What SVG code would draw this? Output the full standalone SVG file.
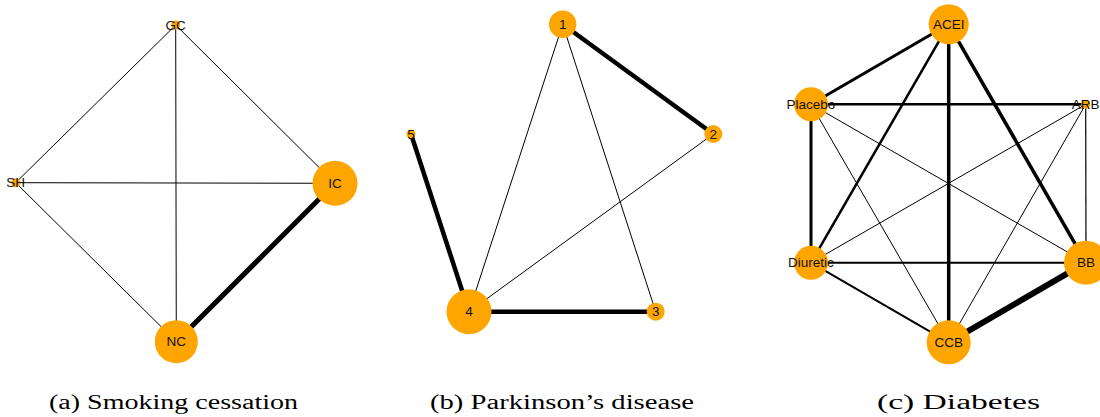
<svg xmlns="http://www.w3.org/2000/svg" width="1100" height="417" viewBox="0 0 1100 417">
<style>
.e{stroke:#000;fill:none;stroke-linecap:butt}
.n circle{fill:#FFA500}
.n text{font-family:"Liberation Sans",Arial,sans-serif;font-size:13.5px;fill:#111;text-anchor:middle;dominant-baseline:central}
.cap{font-family:"Liberation Serif","DejaVu Serif",serif;font-size:20px;fill:#000}
</style>
<rect width="1100" height="417" fill="#fff"/>
<g id="connectors">
<line class="e" x1="175.7" y1="25" x2="15.7" y2="182.7" stroke-width="1"/>
<line class="e" x1="175.7" y1="25" x2="335" y2="183.3" stroke-width="1"/>
<line class="e" x1="175.7" y1="25" x2="176.3" y2="341.7" stroke-width="1"/>
<line class="e" x1="15.7" y1="182.7" x2="335" y2="183.3" stroke-width="1"/>
<line class="e" x1="15.7" y1="182.7" x2="176.3" y2="341.7" stroke-width="1"/>
<line class="e" x1="335" y1="183.3" x2="176.3" y2="341.7" stroke-width="5"/>
<line class="e" x1="562.7" y1="24.3" x2="713.3" y2="134" stroke-width="4.5"/>
<line class="e" x1="562.7" y1="24.3" x2="469" y2="311.7" stroke-width="1"/>
<line class="e" x1="562.7" y1="24.3" x2="655.7" y2="311.7" stroke-width="1"/>
<line class="e" x1="713.3" y1="134" x2="469" y2="311.7" stroke-width="1"/>
<line class="e" x1="411" y1="134" x2="469" y2="311.7" stroke-width="4.5"/>
<line class="e" x1="469" y1="311.7" x2="655.7" y2="311.7" stroke-width="4.5"/>
<line class="e" x1="948.7" y1="24.3" x2="811" y2="104.3" stroke-width="3"/>
<line class="e" x1="948.7" y1="24.3" x2="811" y2="262.7" stroke-width="2.5"/>
<line class="e" x1="948.7" y1="24.3" x2="948.7" y2="342.3" stroke-width="3.5"/>
<line class="e" x1="948.7" y1="24.3" x2="1086" y2="262.7" stroke-width="3.5"/>
<line class="e" x1="811" y1="104.3" x2="1085.7" y2="104.3" stroke-width="2.5"/>
<line class="e" x1="811" y1="104.3" x2="811" y2="262.7" stroke-width="3"/>
<line class="e" x1="811" y1="104.3" x2="1086" y2="262.7" stroke-width="1"/>
<line class="e" x1="811" y1="104.3" x2="948.7" y2="342.3" stroke-width="1"/>
<line class="e" x1="1085.7" y1="104.3" x2="811" y2="262.7" stroke-width="1"/>
<line class="e" x1="1085.7" y1="104.3" x2="948.7" y2="342.3" stroke-width="1"/>
<line class="e" x1="1085.7" y1="104.3" x2="1086" y2="262.7" stroke-width="1.2" stroke="#555"/>
<line class="e" x1="811" y1="262.7" x2="1086" y2="262.7" stroke-width="2"/>
<line class="e" x1="811" y1="262.7" x2="948.7" y2="342.3" stroke-width="2"/>
<line class="e" x1="1086" y1="262.7" x2="948.7" y2="342.3" stroke-width="6"/>
</g>
<g id="node-GC" class="n"><circle cx="175.7" cy="25" r="4.5"/><text x="175.7" y="25">GC</text></g>
<g id="node-SH" class="n"><circle cx="15.7" cy="182.7" r="4.5"/><text x="15.7" y="182.7">SH</text></g>
<g id="node-IC" class="n"><circle cx="335" cy="183.3" r="22.5"/><text x="335" y="183.3">IC</text></g>
<g id="node-NC" class="n"><circle cx="176.3" cy="341.7" r="21.5"/><text x="176.3" y="341.7">NC</text></g>
<g id="node-1" class="n"><circle cx="562.7" cy="24.3" r="13.7"/><text x="562.7" y="24.3">1</text></g>
<g id="node-2" class="n"><circle cx="713.3" cy="134" r="9"/><text x="713.3" y="134">2</text></g>
<g id="node-3" class="n"><circle cx="655.7" cy="311.7" r="9"/><text x="655.7" y="311.7">3</text></g>
<g id="node-4" class="n"><circle cx="469" cy="311.7" r="22.5"/><text x="469" y="311.7">4</text></g>
<g id="node-5" class="n"><circle cx="411" cy="134" r="4.5"/><text x="411" y="134">5</text></g>
<g id="node-ACEI" class="n"><circle cx="948.7" cy="24.3" r="20"/><text x="948.7" y="24.3">ACEI</text></g>
<g id="node-Placebo" class="n"><circle cx="811" cy="104.3" r="17"/><text x="811" y="104.3">Placebo</text></g>
<g id="node-ARB" class="n"><circle cx="1085.7" cy="104.3" r="4.5"/><text x="1085.7" y="104.3">ARB</text></g>
<g id="node-Diuretic" class="n"><circle cx="811" cy="262.7" r="17"/><text x="811" y="262.7">Diuretic</text></g>
<g id="node-BB" class="n"><circle cx="1086" cy="262.7" r="22"/><text x="1086" y="262.7">BB</text></g>
<g id="node-CCB" class="n"><circle cx="948.7" cy="342.3" r="22"/><text x="948.7" y="342.3">CCB</text></g>
<g id="captions">
<text class="cap" x="49" y="409" textLength="249" lengthAdjust="spacingAndGlyphs">(a) Smoking cessation</text>
<text class="cap" x="430" y="409" textLength="264" lengthAdjust="spacingAndGlyphs">(b) Parkinson’s disease</text>
<text class="cap" x="877" y="409" textLength="163" lengthAdjust="spacingAndGlyphs">(c) Diabetes</text>
</g>
</svg>
